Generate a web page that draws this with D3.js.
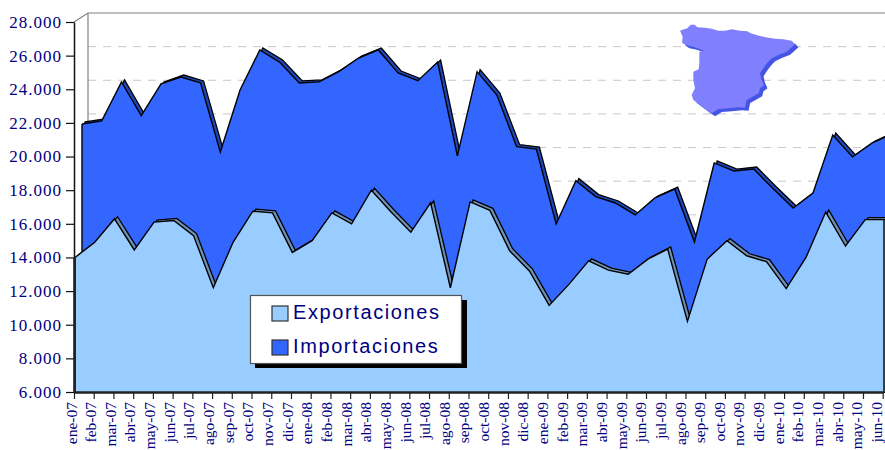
<!DOCTYPE html>
<html>
<head>
<meta charset="utf-8">
<script src="https://cdn.jsdelivr.net/npm/d3@7"></script>
<style>
  html, body { margin: 0; padding: 0; background: #fff; overflow: hidden; }
  svg { display: block; }
  .tick text { fill: #000080; font-family: "Liberation Serif", serif; }
</style>
</head>
<body>
<div id="chart"></div>
<script>
const months = [
  'ene-07','feb-07','mar-07','abr-07','may-07','jun-07','jul-07','ago-07','sep-07','oct-07','nov-07','dic-07',
  'ene-08','feb-08','mar-08','abr-08','may-08','jun-08','jul-08','ago-08','sep-08','oct-08','nov-08','dic-08',
  'ene-09','feb-09','mar-09','abr-09','may-09','jun-09','jul-09','ago-09','sep-09','oct-09','nov-09','dic-09',
  'ene-10','feb-10','mar-10','abr-10','may-10','jun-10'
]
const exportaciones = [
  14000,14900,16300,14450,16100,16200,15300,12200,14900,16750,16650,14300,
  15000,16650,16000,18000,16700,15500,17250,12200,17300,16800,14400,13200,
  11150,12400,13800,13250,13000,13900,14500,10200,13900,15000,14100,13750,
  12150,14000,16700,14680,16250,16250
]
const importaciones = [
  21670,21850,24170,22160,24050,24460,24110,20000,23690,26070,25350,24110,
  24170,24780,25590,26070,24700,24240,25350,19770,24780,23390,20320,20180,
  15720,18300,17350,16970,16260,17270,17800,14650,19350,18870,18990,17800,
  16670,17560,21010,19710,20540,21070
]
const yTicks = [6000,8000,10000,12000,14000,16000,18000,20000,22000,24000,26000,28000]
const legendNames = ['Exportaciones','Importaciones']

// outline of the map, in its own little grid
const mapaOutline = [
  [60,62],[72,58],[82,55],[92,44],[104,44],[112,52],[135,53],[155,56],[175,62],[195,62],[215,58],[240,62],
  [262,64],[272,70],[300,78],[330,84],[345,86],[370,88],[395,92],[405,103],[395,112],[380,125],[355,135],
  [335,145],[322,158],[312,172],[300,190],[304,208],[312,226],[300,235],[296,250],[275,262],[260,270],[255,293],
  [235,292],[205,295],[175,297],[155,310],[140,300],[120,285],[100,270],[95,255],[105,235],[100,210],[100,185],
  [116,178],[118,160],[118,125],[132,122],[100,110],[78,106],[66,98],[68,80]
]

const width = 885, height = 450
const frontLeft = 74, frontRight = 884, floorY = 392, topY = 22
const wallDx = 14, wallDy = -9
const seriesDx = 7, seriesDy = -4.5
const ridgeDx = 3, ridgeDy = -2

const svg = d3.select('#chart').append('svg')
  .attr('width', width)
  .attr('height', height)

const clip = svg.append('clipPath').attr('id', 'page')
clip.append('rect').attr('width', frontRight + 1).attr('height', height)

const xScale = d3.scalePoint().domain(months).range([frontLeft + 1, frontRight + 1])
const xAxisScale = d3.scalePoint().domain(months).range([frontLeft, 882.7])
// month labels drift a little against the ticks in the original
const xLabelScale = d3.scalePoint().domain(months).range([76, 881.5])
const yScale = d3.scaleLinear().domain([6000, 28000]).range([floorY, topY])

const numFormat = d3.formatLocale({ decimal: ',', thousands: '.', grouping: [3], currency: ['', ''] }).format(',')

// back wall
const wall = svg.append('g')
wall.selectAll('line.grid')
  .data(yTicks.slice(1, -1))
  .join('line')
  .attr('class', 'grid')
  .attr('x1', frontLeft + wallDx)
  .attr('x2', width)
  .attr('y1', d => yScale(d) + wallDy)
  .attr('y2', d => yScale(d) + wallDy)
  .attr('stroke', '#c8c8c8')
  .attr('stroke-width', 1)
  .attr('stroke-dasharray', '8 7')

wall.append('path')
  .attr('d', d3.line()([
    [frontLeft, topY],
    [frontLeft + wallDx, topY + wallDy],
    [width, topY + wallDy]
  ]))
  .attr('fill', 'none')
  .attr('stroke', '#808080')
  .attr('stroke-width', 1.2)
wall.append('line')
  .attr('x1', frontLeft + wallDx).attr('x2', frontLeft + wallDx)
  .attr('y1', topY + wallDy).attr('y2', floorY + wallDy)
  .attr('stroke', '#808080')
  .attr('stroke-width', 1.2)

// one series: ridge copy behind, then the front face
function drawSeries(values, dx, dy, fill, ridgeFill) {
  const g = svg.append('g').attr('clip-path', 'url(#page)')
  const makeArea = (ox, oy) => d3.area()
    .x((d, i) => xScale(months[i]) + ox)
    .y0(floorY)
    .y1(d => yScale(d) + oy)
  g.append('path')
    .attr('d', makeArea(dx + ridgeDx, dy + ridgeDy)(values))
    .attr('fill', ridgeFill)
    .attr('stroke', '#000')
    .attr('stroke-width', 1.3)
  g.append('path')
    .attr('d', makeArea(dx, dy)(values))
    .attr('fill', fill)
  g.append('path')
    .attr('d', d3.line()
      .x((d, i) => xScale(months[i]) + dx)
      .y(d => yScale(d) + dy)(values))
    .attr('fill', 'none')
    .attr('stroke', '#000')
    .attr('stroke-width', 1.4)
  g.append('line')
    .attr('x1', xScale(months[0]) + dx).attr('x2', xScale(months[0]) + dx)
    .attr('y1', yScale(values[0]) + dy).attr('y2', floorY)
    .attr('stroke', '#000')
    .attr('stroke-width', 1.4)
}

drawSeries(importaciones, seriesDx, seriesDy, '#3366ff', '#1f49b8')
drawSeries(exportaciones, 0, 0, '#99ccff', '#6f93b5')

// right edge of the front face
svg.append('line')
  .attr('x1', frontRight).attr('x2', frontRight)
  .attr('y1', yScale(exportaciones[41])).attr('y2', floorY)
  .attr('stroke', '#111')
  .attr('stroke-width', 1.5)

// axes
const yAxis = svg.append('g')
  .attr('transform', `translate(${frontLeft},0)`)
  .call(d3.axisLeft(yScale).tickValues(yTicks).tickFormat(numFormat).tickSize(8).tickSizeOuter(0))
yAxis.select('.domain').attr('stroke', '#111').attr('stroke-width', 1.5)
yAxis.selectAll('.tick line').attr('stroke', '#111').attr('stroke-width', 1.2)
yAxis.selectAll('.tick text')
  .attr('x', -12)
  .style('font-size', '17px')
  .style('letter-spacing', '1px')

// the axis is heavier where the front face sits on it
svg.append('line')
  .attr('x1', frontLeft + 0.5).attr('x2', frontLeft + 0.5)
  .attr('y1', yScale(exportaciones[0])).attr('y2', floorY)
  .attr('stroke', '#222')
  .attr('stroke-width', 2.5)

const xAxis = svg.append('g')
  .attr('transform', `translate(0,${floorY})`)
  .call(d3.axisBottom(xAxisScale).tickSize(7).tickSizeOuter(0))
xAxis.select('.domain').attr('stroke', '#222').attr('stroke-width', 2.5)
xAxis.selectAll('.tick line').attr('stroke', '#222').attr('stroke-width', 1.2)
xAxis.selectAll('.tick text')
  .attr('transform', 'rotate(-90)')
  .attr('text-anchor', 'end')
  .attr('x', -10)
  .attr('y', d => xLabelScale(d) - xAxisScale(d))
  .attr('dy', 0)
  .style('font-size', '15.5px')

// map
const mapX = d3.scaleLinear().domain([0, 450]).range([660, 810])
const mapY = d3.scaleLinear().domain([0, 360]).range([10, 130])
const mapLine = d3.line().x(d => mapX(d[0])).y(d => mapY(d[1])).curve(d3.curveLinearClosed)
svg.append('path')
  .attr('d', mapLine(mapaOutline))
  .attr('transform', 'translate(3.5,3)')
  .attr('fill', '#4455e6')
svg.append('path')
  .attr('d', mapLine(mapaOutline))
  .attr('fill', '#8080ff')

// legend
const legend = svg.append('g').attr('transform', 'translate(250,295)')
legend.append('rect')
  .attr('x', 5).attr('y', 5).attr('width', 212).attr('height', 68)
  .attr('fill', '#000')
legend.append('rect')
  .attr('x', 0.5).attr('y', 0.5).attr('width', 211).attr('height', 68)
  .attr('fill', '#fff')
  .attr('stroke', '#555')
  .attr('stroke-width', 1.2)
const legendRow = d3.scalePoint().domain(legendNames).range([18, 52])
const legendColor = d3.scaleOrdinal().domain(legendNames).range(['#99ccff', '#3366ff'])
const row = legend.selectAll('g').data(legendNames).join('g')
  .attr('transform', d => `translate(0,${legendRow(d)})`)
row.append('rect')
  .attr('x', 22).attr('y', -7).attr('width', 16).attr('height', 15)
  .attr('fill', d => legendColor(d))
  .attr('stroke', '#333')
  .attr('stroke-width', 1.2)
row.append('text')
  .attr('x', 43)
  .attr('y', 6)
  .attr('fill', '#000080')
  .attr('font-family', '"Liberation Sans", sans-serif')
  .attr('font-size', 20)
  .attr('letter-spacing', 1.6)
  .text(d => d)
</script>
</body>
</html>
